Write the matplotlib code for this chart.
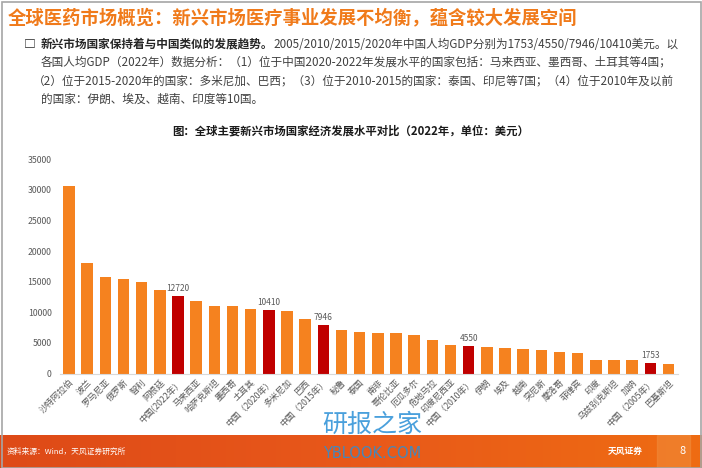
import numpy as np
import matplotlib.pyplot as plt
from matplotlib.patches import Rectangle
from matplotlib.colors import LinearSegmentedColormap

plt.rcParams['font.family'] = ['Noto Sans CJK SC', 'DejaVu Sans']

# 2022 GDP per capita (USD)
countries = ['沙特阿拉伯', '波兰', '罗马尼亚', '俄罗斯', '智利', '阿根廷', '中国(2022年）',
             '马来西亚', '哈萨克斯坦', '墨西哥', '土耳其', '中国（2020年）', '多米尼加', '巴西',
             '中国（2015年）', '秘鲁', '泰国', '南非', '哥伦比亚', '厄瓜多尔', '危地马拉',
             '印度尼西亚', '中国（2010年）', '伊朗', '埃及', '越南', '突尼斯', '摩洛哥', '菲律宾',
             '印度', '乌兹别克斯坦', '加纳', '中国（2005年）', '巴基斯坦']
gdp = [30700, 18000, 15820, 15490, 14950, 13640, 12720,
       11850, 10980, 10980, 10540, 10410, 10270, 8850,
       7946, 7060, 6800, 6670, 6570, 6290, 5470,
       4660, 4550, 4280, 4170, 4050, 3790, 3510, 3400,
       2260, 2160, 2160, 1753, 1500]
china_idx = [6, 11, 14, 22, 32]

W, H = 702, 468
fig = plt.figure(figsize=(W / 100, H / 100), dpi=100)
fig.patch.set_facecolor('white')

# bar chart
ax = fig.add_axes([59.9 / W, 1 - 373.5 / H, 617.7 / W, 214.2 / H])
x = np.arange(len(countries))
colors = ['#C00000' if i in china_idx else '#F5821F' for i in x]
ax.bar(x, gdp, width=0.64, color=colors)
for i in china_idx:
    ax.text(i, gdp[i] + 500, str(gdp[i]), ha='center', va='bottom', fontsize=6, color='#595959')
ax.set_xlim(-0.5, len(countries) - 0.5)
ax.set_ylim(0, 35000)
ax.set_yticks(range(0, 35001, 5000))
ax.set_xticks(x)
ax.set_xticklabels(countries, rotation=45, ha='right', rotation_mode='anchor',
                   fontsize=6.3, color='#595959')
ax.tick_params(axis='y', labelsize=6.3, labelcolor='#595959', length=0, pad=6)
ax.tick_params(axis='x', length=0, pad=3)
for sp in ['top', 'right', 'left']:
    ax.spines[sp].set_visible(False)
ax.spines['bottom'].set_color('#D9D9D9')
ax.spines['bottom'].set_linewidth(0.8)

# page frame
fig.add_artist(Rectangle((1.5 / W, 0), (W - 3) / W, 1 - 1.5 / H, transform=fig.transFigure,
                         fill=False, edgecolor='#A6A6A6', lw=1.2))

# headline
fig.text(8 / W, 1 - 18 / H, '全球医药市场概览：新兴市场医疗事业发展不均衡，蕴含较大发展空间',
         color='#F07A1A', fontsize=13.2, fontweight='bold', va='center', ha='left')

# bullet text
fs = 8.4
fig.text(24 / W, 1 - 44 / H, '□', fontsize=8.5, fontweight='bold', va='center', ha='left',
         color='#262626')
t1 = fig.text(41 / W, 1 - 44 / H, '新兴市场国家保持着与中国类似的发展趋势。', fontsize=fs,
              fontweight='bold', va='center', color='#262626')
ax.annotate('2005/2010/2015/2020年中国人均GDP分别为1753/4550/7946/10410美元。以',
            xy=(1, 0.5), xycoords=t1, va='center', ha='left', fontsize=fs, color='#404040',
            annotation_clip=False)
lines = ['各国人均GDP（2022年）数据分析：（1）位于中国2020-2022年发展水平的国家包括：马来西亚、墨西哥、土耳其等4国；',
         '（2）位于2015-2020年的国家：多米尼加、巴西；（3）位于2010-2015的国家：泰国、印尼等7国；（4）位于2010年及以前',
         '的国家：伊朗、埃及、越南、印度等10国。']
for k, s in enumerate(lines):
    x0 = 33 if s.startswith('（') else 41
    fig.text(x0 / W, 1 - (62.3 + 18.4 * k) / H, s, fontsize=fs, color='#404040', va='center')

# chart title
fig.text(351 / W, 1 - 131 / H, '图：全球主要新兴市场国家经济发展水平对比（2022年，单位：美元）',
         fontsize=8.2, fontweight='bold', ha='center', va='center', color='#1a1a1a')

# footer band
fax = fig.add_axes([0, 0, 1, 33 / H])
grad = np.linspace(0, 1, 256).reshape(1, -1)
cmap = LinearSegmentedColormap.from_list('band', ['#DE4A17', '#E8581A', '#EF6C12'])
fax.imshow(grad, aspect='auto', cmap=cmap, extent=(0, 1, 0, 1))
fax.add_patch(Rectangle((657 / W, 0), 33 / W, 1, color='#F08A3A', alpha=0.6))
fax.set_xlim(0, 1)
fax.set_ylim(0, 1)
fax.axis('off')
fax.text(7 / W, 0.5, '资料来源：Wind，天风证券研究所', color='white', fontsize=5.6,
         style='italic', va='center')
fax.text(608 / W, 0.5, '天风证券', color='white', fontsize=6.3, fontweight='bold', va='center')
fax.text(683 / W, 0.5, '8', color='white', fontsize=8, va='center', ha='center')

# watermark
fig.text(322 / W, 1 - 425 / H, '研报之家', fontsize=18, color='#2A8FD6', alpha=0.85,
         va='center', ha='left')
fig.text(323 / W, 1 - 453 / H, 'YBLOOK.COM', fontsize=10.5, color='#2A8FD6', alpha=0.85,
         va='center', ha='left', family=['DejaVu Sans'])

fig.savefig('out.png', dpi=100)
